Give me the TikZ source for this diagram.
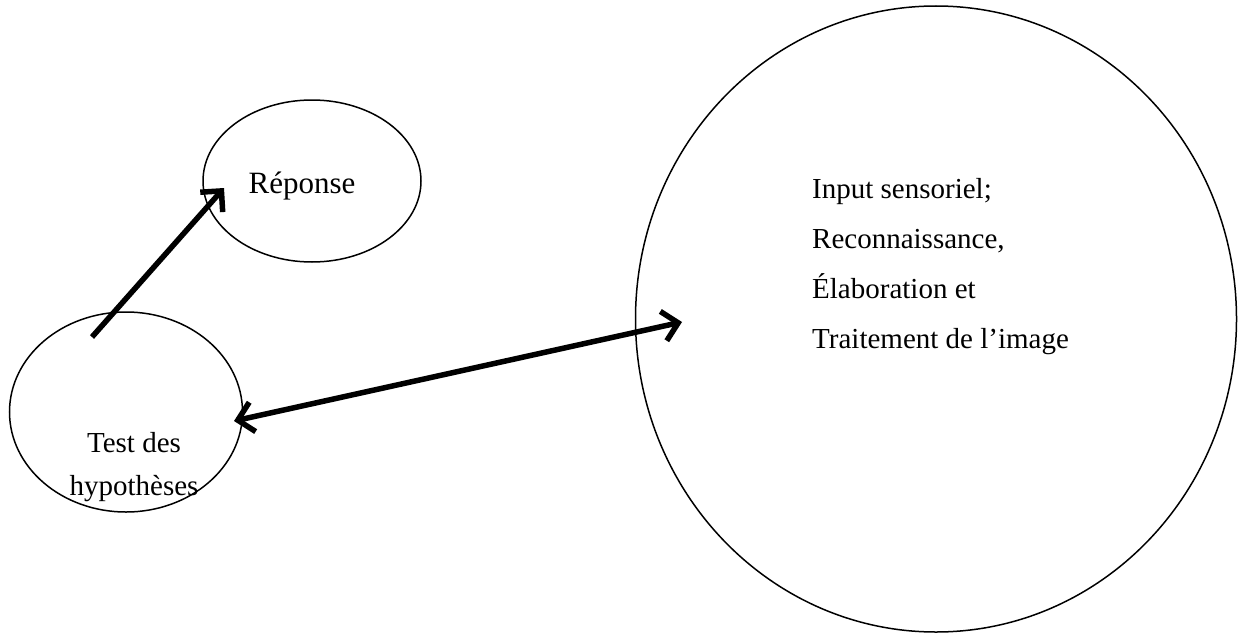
\documentclass[tikz,border=0pt]{standalone}
\usepackage{fontspec}
\setmainfont{Liberation Serif}
\usetikzlibrary{shapes.geometric,arrows.meta}
\begin{document}
\begin{tikzpicture}[x=1pt,y=-1pt,
  bubble/.style={draw,ellipse,line width=1.5pt,inner sep=0pt},
  lbl/.style={font=\fontsize{29}{50}\selectfont,inner sep=0pt},
  arr/.style={line width=5.5pt,line join=miter,-{Straight Barb[length=15pt,width=30pt]}},
  darr/.style={line width=5.5pt,line join=miter,{Straight Barb[length=15pt,width=30pt]}-{Straight Barb[length=15pt,width=30pt]}}]
\useasboundingbox (0,0) rectangle (1244,634);
\node[bubble,minimum width=218pt,minimum height=162pt] (rep) at (312,181) {};
\node[bubble,minimum width=233pt,minimum height=200pt] (test) at (126,412) {};
\node[bubble,minimum width=601pt,minimum height=626pt] (big) at (936,319) {};
\node[lbl,font=\fontsize{31}{50}\selectfont] (trep) at (302,186) {Réponse};
\node[lbl,align=center,font=\fontsize{29}{43}\selectfont] (ttest) at (134,467) {Test des\\hypothèses};
\node[lbl,align=left,anchor=west] (tbig) at (812,267) {Input sensoriel;\\Reconnaissance,\\Élaboration et\\Traitement de l’image};
\coordinate (a1) at (92,337);
\coordinate (a2) at (224,188);
\coordinate (b1) at (234,421);
\coordinate (b2) at (682,322);
\draw[arr] (a1) -- (a2);
\draw[darr] (b1) -- (b2);
\end{tikzpicture}
\end{document}
